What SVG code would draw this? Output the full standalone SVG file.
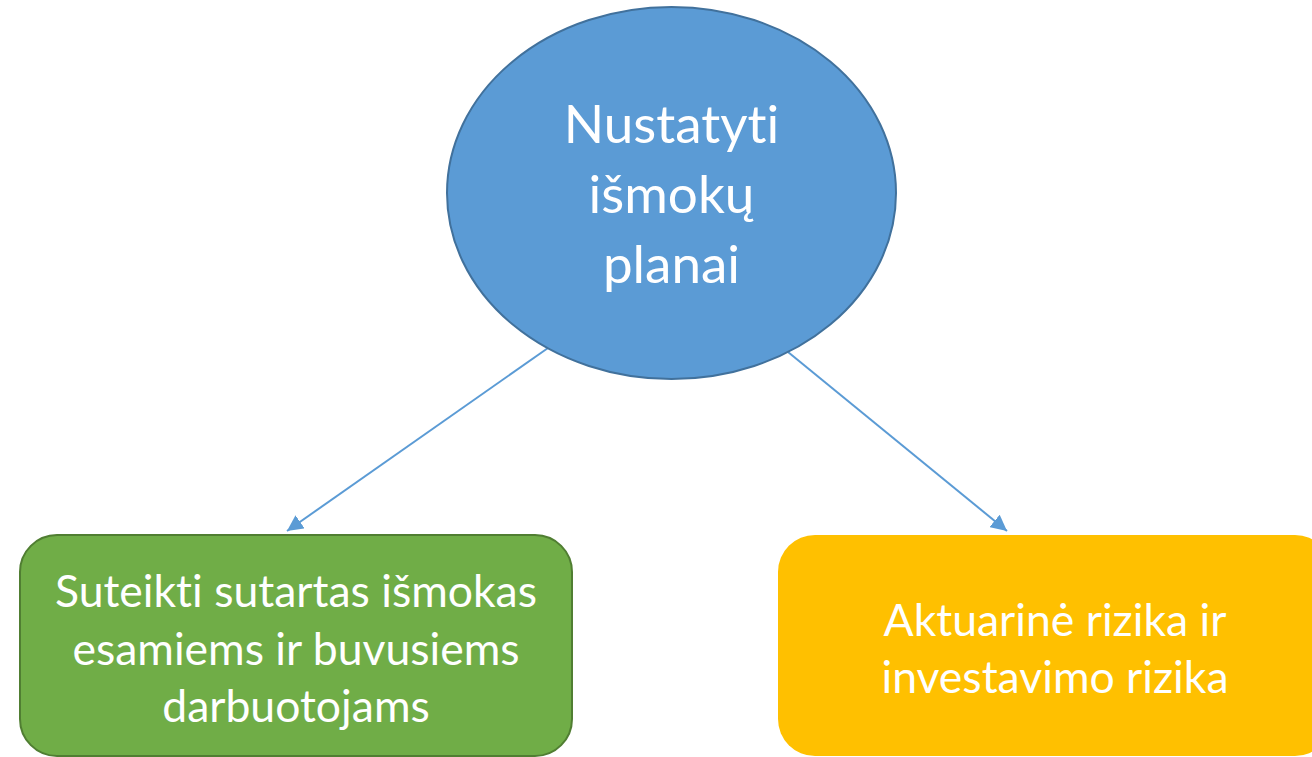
<svg xmlns="http://www.w3.org/2000/svg" width="1312" height="757" viewBox="0 0 1312 757">
  <style>
    .lbl { font-family: Lato, "Open Sans", "Liberation Sans", sans-serif; fill: #FFFFFF; text-anchor: middle; font-variant-ligatures: none; }
    .big { font-size: 53px; }
    .small { font-size: 44.5px; }
    .conn { stroke: #5B9BD5; stroke-width: 2; fill: none; }
  </style>
  <defs>
    <marker id="arrow" markerUnits="userSpaceOnUse" markerWidth="18" markerHeight="16" refX="16" refY="8" orient="auto">
      <path d="M0,0 L16,8 L0,16 Z" fill="#5B9BD5"/>
    </marker>
  </defs>
  <rect width="1312" height="757" fill="#FFFFFF"/>
  <g id="connectors">
    <line class="conn" x1="548" y1="348" x2="287" y2="531" marker-end="url(#arrow)"/>
    <line class="conn" x1="788" y1="352" x2="1007" y2="531" marker-end="url(#arrow)"/>
  </g>
  <g id="node-root">
    <ellipse cx="671.5" cy="193" rx="224.5" ry="186" fill="#5B9BD5" stroke="#41719C" stroke-width="2"/>
    <text class="lbl big" x="671.5" y="143">Nustatyti</text>
    <text class="lbl big" x="671.5" y="213">išmokų</text>
    <text class="lbl big" x="671.5" y="283">planai</text>
  </g>
  <g id="node-benefits">
    <rect x="20" y="535" width="552" height="221" rx="37" ry="37" fill="#70AD47" stroke="#507E32" stroke-width="2"/>
    <text class="lbl small" x="296" y="607">Suteikti sutartas išmokas</text>
    <text class="lbl small" x="296" y="665">esamiems ir buvusiems</text>
    <text class="lbl small" x="296" y="722">darbuotojams</text>
  </g>
  <g id="node-risk">
    <rect x="778" y="535" width="554" height="221" rx="37" ry="37" fill="#FFC000"/>
    <text class="lbl small" x="1055" y="636">Aktuarinė rizika ir</text>
    <text class="lbl small" x="1055" y="693">investavimo rizika</text>
  </g>
</svg>
